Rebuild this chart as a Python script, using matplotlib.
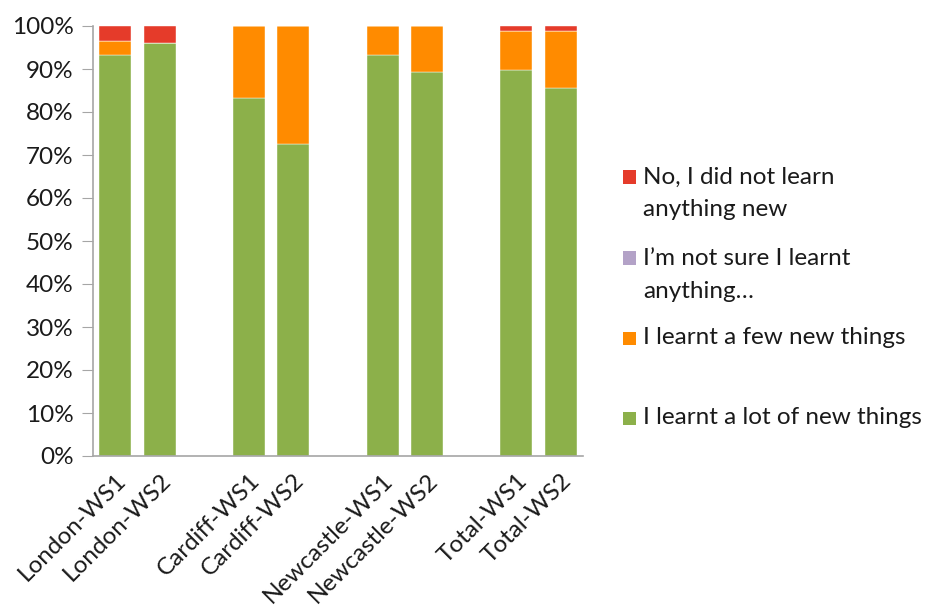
import matplotlib
matplotlib.use("Agg")
import matplotlib.pyplot as plt
from matplotlib.ticker import FuncFormatter
from matplotlib.patches import Rectangle
import numpy as np

categories = ["London-WS1", "London-WS2", "Cardiff-WS1", "Cardiff-WS2",
              "Newcastle-WS1", "Newcastle-WS2", "Total-WS1", "Total-WS2"]
positions = [0, 1, 3, 4, 6, 7, 9, 10]

learnt_lot = [93.3, 96.0, 83.3, 72.5, 93.3, 89.2, 89.8, 85.6]
learnt_few = [3.3, 0.0, 16.7, 27.5, 6.7, 10.8, 9.0, 13.2]
not_sure = [0, 0, 0, 0, 0, 0, 0, 0]
not_learn = [3.4, 4.0, 0, 0, 0, 0, 1.2, 1.2]

series_names = ["I learnt a lot of new things", "I learnt a few new things",
                "I\u2019m not sure I learnt\nanything\u2026",
                "No, I did not learn\nanything new"]
series_values = [learnt_lot, learnt_few, not_sure, not_learn]
series_colors = ["#8CB04A", "#FF8B00", "#B3A2C7", "#E53B2A"]

plt.rcParams['font.family'] = ['Lato', 'DejaVu Sans']
FS = 17.5
W, H = 930, 612

fig = plt.figure(figsize=(9.3, 6.12), dpi=100)
ax = fig.add_axes([93 / W, 1 - 456 / H, (583 - 93) / W, (456 - 26) / H])

bottom = np.zeros(len(categories))
for label, vals, color in zip(series_names, series_values, series_colors):
    vals = np.array(vals, dtype=float)
    ax.bar(positions, vals, bottom=bottom, width=0.72, color=color,
           label=label, edgecolor="white", linewidth=0.3)
    bottom += vals

ax.set_xlim(-0.5, 10.5)
ax.set_ylim(0, 100)
ax.set_yticks(np.arange(0, 101, 10))
ax.yaxis.set_major_formatter(FuncFormatter(lambda v, p: f"{int(v)}%"))
ax.set_xticks(positions)
ax.set_xticklabels(categories, rotation=45, ha="right", rotation_mode="anchor",
                   color="#1a1a1a")
ax.tick_params(axis="x", length=0, labelsize=FS, pad=10)
ax.tick_params(axis="y", length=8, color="#A6A6A6", labelsize=FS, pad=6,
               labelcolor="#1a1a1a")
for s in ["top", "right"]:
    ax.spines[s].set_visible(False)
for s in ["left", "bottom"]:
    ax.spines[s].set_color("#A6A6A6")
    ax.spines[s].set_linewidth(1.2)

# legend (drawn manually to match the reference spacing)
legend_rows = [  # (series index, y of first line centre in px)
    (3, 177),
    (2, 258),
    (1, 338),
    (0, 418),
]
line_step = 33
for idx, y0 in legend_rows:
    fig.patches.append(Rectangle((623 / W, 1 - (y0 + 6.5) / H), 13 / W, 13 / H,
                                 transform=fig.transFigure,
                                 facecolor=series_colors[idx], edgecolor="none"))
    for k, line in enumerate(series_names[idx].split("\n")):
        fig.text(643 / W, 1 - (y0 + k * line_step) / H, line, fontsize=FS,
                 va="center", ha="left", color="#1a1a1a")

fig.savefig("out.png", dpi=100)
